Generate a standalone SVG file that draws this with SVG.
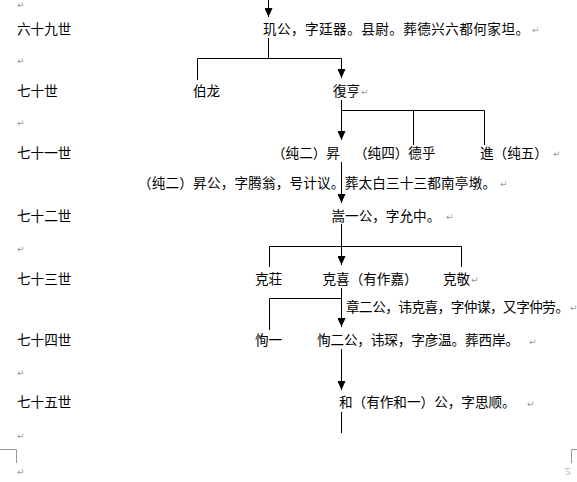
<svg xmlns="http://www.w3.org/2000/svg" width="577" height="482" viewBox="0 0 577 482">
<style>
.t{font-family:"Noto Sans CJK SC","Noto Sans CJK JP",sans-serif;font-size:13.6px;fill:#000;}
.pm{font-family:"DejaVu Sans",sans-serif;font-size:9px;fill:#999;}
.ln{stroke:#000;stroke-width:1;fill:none;}
.cm{stroke:#999;stroke-width:1;fill:none;}
</style>
<defs>
<marker id="ah" markerUnits="userSpaceOnUse" markerWidth="9" markerHeight="8" refX="9" refY="4" orient="auto">
<path d="M0,0 L9,4 L0,8 z" fill="#000"/>
</marker>
</defs>
<rect width="577" height="482" fill="#fff"/>

<g id="labels">
<text class="pm" x="17" y="8">↵</text>
<text class="t" x="17" y="33.5">六十九世</text>
<text class="pm" x="17" y="64">↵</text>
<text class="t" x="17" y="95.5">七十世</text>
<text class="pm" x="17" y="126">↵</text>
<text class="t" x="17" y="157.5">七十一世</text>
<text class="t" x="17" y="220.5">七十二世</text>
<text class="pm" x="17" y="252">↵</text>
<text class="t" x="17" y="283.5">七十三世</text>
<text class="t" x="17" y="345">七十四世</text>
<text class="pm" x="17" y="376">↵</text>
<text class="t" x="17" y="407">七十五世</text>
<text class="pm" x="17" y="439">↵</text>
<text class="pm" x="17" y="475">↵</text>
</g>

<g id="n69">
<text class="t" x="263" y="33.5" textLength="266" lengthAdjust="spacing">玑公，字廷器。县尉。葬德兴六都何家坦。</text>
<text class="pm" x="532" y="33">↵</text>
</g>

<g id="n70a"><text class="t" x="193" y="95.5">伯龙</text></g>
<g id="n70b"><text class="t" x="333" y="95.5">復亨</text><text class="pm" x="361" y="95">↵</text></g>

<g id="n71a"><text class="t" x="272" y="157.5">（纯二）昇</text></g>
<g id="n71b"><text class="t" x="354" y="157.5">（纯四）德乎</text></g>
<g id="n71c"><text class="t" x="480" y="157.5">進（纯五）</text><text class="pm" x="553" y="157">↵</text></g>
<g id="n71note">
<text class="t" x="138" y="187.5" textLength="358" lengthAdjust="spacing">（纯二）昇公，字腾翁，号计议。葬太白三十三都南亭墩。</text>
<text class="pm" x="500" y="187">↵</text>
</g>

<g id="n72"><text class="t" x="331.5" y="220.5">嵩一公，字允中。</text><text class="pm" x="446" y="220">↵</text></g>

<g id="n73a"><text class="t" x="255" y="283.5">克荘</text></g>
<g id="n73b"><text class="t" x="322.5" y="283.5">克喜（有作嘉）</text></g>
<g id="n73c"><text class="t" x="443" y="283.5">克敬</text><text class="pm" x="471" y="283">↵</text></g>
<g id="n73note">
<text class="t" x="346" y="311.5" textLength="223" lengthAdjust="spacing">章二公，讳克喜，字仲谋，又字仲劳。</text>
<text class="pm" x="570" y="311">↵</text>
</g>

<g id="n74a"><text class="t" x="255" y="345">恂一</text></g>
<g id="n74b">
<text class="t" x="317" y="345" textLength="202" lengthAdjust="spacing">恂二公，讳琛，字彦温。葬西岸。</text>
<text class="pm" x="529" y="345">↵</text>
</g>

<g id="n75">
<text class="t" x="339" y="407">和（有作和一）公，字思顺。</text>
<text class="pm" x="527" y="407">↵</text>
</g>

<g id="connectors">
<line class="ln" x1="268.5" y1="0" x2="268.5" y2="17" marker-end="url(#ah)"/>
<polyline class="ln" points="268.5,38 268.5,58.5"/>
<polyline class="ln" points="197.5,80 197.5,58.5 341.5,58.5"/>
<line class="ln" x1="341.5" y1="58.5" x2="341.5" y2="78" marker-end="url(#ah)"/>

<line class="ln" x1="341.5" y1="100" x2="341.5" y2="140" marker-end="url(#ah)"/>
<polyline class="ln" points="341.5,110.5 484.5,110.5 484.5,145"/>
<line class="ln" x1="413.5" y1="110.5" x2="413.5" y2="145"/>

<line class="ln" x1="341.5" y1="162" x2="341.5" y2="203" marker-end="url(#ah)"/>

<line class="ln" x1="341.5" y1="224" x2="341.5" y2="265" marker-end="url(#ah)"/>
<polyline class="ln" points="269.5,267 269.5,246.5 461.5,246.5 461.5,267"/>

<line class="ln" x1="341.5" y1="288" x2="341.5" y2="327" marker-end="url(#ah)"/>
<polyline class="ln" points="341.5,298.5 269.5,298.5 269.5,330"/>

<line class="ln" x1="341.5" y1="349" x2="341.5" y2="390" marker-end="url(#ah)"/>
<line class="ln" x1="341.5" y1="412" x2="341.5" y2="433"/>
</g>

<g id="page-marks">
<polyline class="cm" points="0,449.5 16.5,449.5 16.5,463"/>
<polyline class="cm" points="577,449.5 571.5,449.5 571.5,463"/>
<text x="565" y="475" style="font-family:'Liberation Serif',serif;font-size:11px;fill:#aaa;">5</text>
</g>
</svg>
